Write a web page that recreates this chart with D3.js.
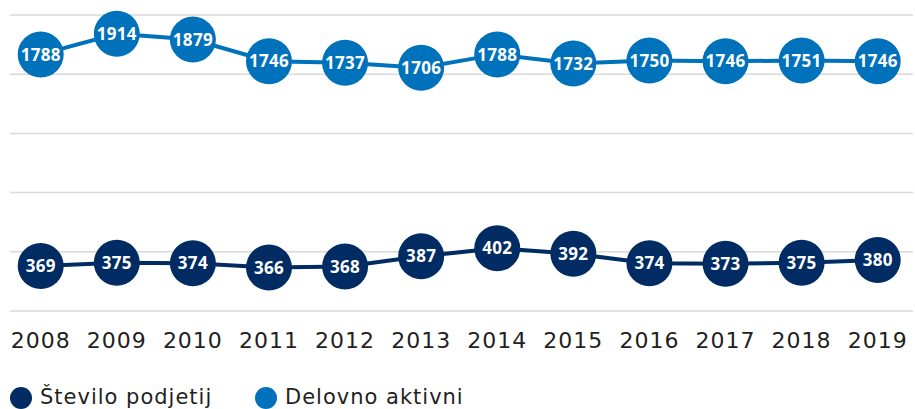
<!DOCTYPE html>
<html>
<head>
<meta charset="utf-8">
<script src="https://cdn.jsdelivr.net/npm/d3@7"></script>
<style>
  body { margin: 0; background: #fff; }
  svg { display: block; }
</style>
</head>
<body>
<svg id="chart" width="915" height="409"></svg>
<script>
"use strict";

var years = ["2008", "2009", "2010", "2011", "2012", "2013", "2014", "2015", "2016", "2017", "2018", "2019"];
var podjetja = [369, 375, 374, 366, 368, 387, 402, 392, 374, 373, 375, 380];
var aktivni = [1788, 1914, 1879, 1746, 1737, 1706, 1788, 1732, 1750, 1746, 1751, 1746];
var legendLabels = ["Število podjetij", "Delovno aktivni"];

var navy = "#002b63";
var blue = "#0071bb";

var svg = d3.select("#chart");

var x = d3.scalePoint().domain(years).range([40.7, 877.7]);

// gridlines, 6 equal bands, no labels
var yGrid = d3.scaleLinear().domain([0, 5]).range([310.5, 14.5]);
var grid = svg.append("g")
    .attr("transform", "translate(10,0)")
    .call(d3.axisLeft(yGrid).ticks(5).tickSize(-903).tickFormat(""));
grid.select(".domain").remove();
grid.selectAll(".tick line").attr("stroke", "#d9d9d9").attr("stroke-width", 1.5);

// each series has its own vertical scale
var yTop = d3.scaleLinear().domain([1700, 1920]).range([68.8, 32.8]);
var yBottom = d3.scaleLinear().domain([360, 410]).range([270.7, 244.1]);

var series = [
    { values: podjetja, y: yBottom, color: navy },
    { values: aktivni, y: yTop, color: blue }
];

series.forEach(function(s) {
    var line = d3.line()
        .x(function(d, i) { return x(years[i]); })
        .y(function(d) { return s.y(d); });

    svg.append("path")
        .datum(s.values)
        .attr("d", line)
        .attr("fill", "none")
        .attr("stroke", s.color)
        .attr("stroke-width", 4);

    var pts = svg.append("g").selectAll("g")
        .data(s.values)
        .join("g")
        .attr("transform", function(d, i) { return "translate(" + x(years[i]) + "," + s.y(d) + ")"; });

    pts.append("circle")
        .attr("r", 23)
        .attr("fill", s.color);

    pts.append("text")
        .text(function(d) { return d; })
        .attr("text-anchor", "middle")
        .attr("dy", "0.36em")
        .attr("fill", "#fff")
        .attr("font-family", "'Open Sans', sans-serif")
        .attr("font-weight", 700)
        .attr("font-size", 17)
        .attr("letter-spacing", 0.3);
});

// year labels
svg.append("g").selectAll("text")
    .data(years)
    .join("text")
    .text(function(d) { return d; })
    .attr("x", function(d) { return x(d); })
    .attr("y", 347.7)
    .attr("text-anchor", "middle")
    .attr("fill", "#231f20")
    .attr("font-family", "'DejaVu Sans', sans-serif")
    .attr("font-size", 22)
    .attr("letter-spacing", 1);

// legend
var legendX = [21, 266];
var legend = svg.append("g").selectAll("g")
    .data(legendLabels)
    .join("g")
    .attr("transform", function(d, i) { return "translate(" + legendX[i] + ",398)"; });

legend.append("circle")
    .attr("r", 11)
    .attr("fill", function(d, i) { return [navy, blue][i]; });

legend.append("text")
    .text(function(d) { return d; })
    .attr("x", 19)
    .attr("y", 6)
    .attr("fill", "#231f20")
    .attr("font-family", "'DejaVu Sans', sans-serif")
    .attr("font-size", 21)
    .attr("letter-spacing", 1);
</script>
</body>
</html>
